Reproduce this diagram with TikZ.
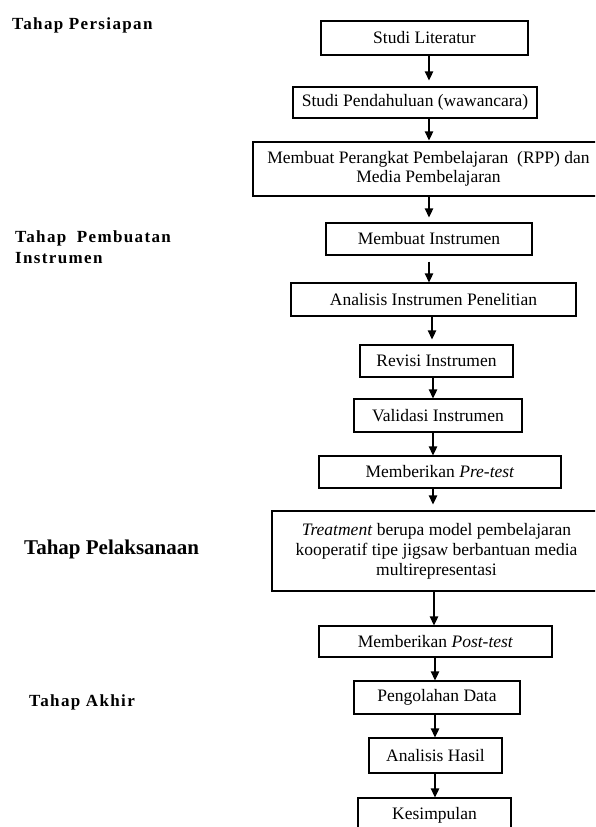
\documentclass[tikz,border=0pt]{standalone}
\usepackage{fontspec}
\setmainfont{Liberation Serif}
\newfontfamily\labfont[LetterSpace=8]{Liberation Serif}
\usetikzlibrary{arrows.meta}
\begin{document}
\begin{tikzpicture}[x=1pt,y=-1pt,
  box/.style={draw, line width=1.3pt, inner sep=0pt, align=center, font=\fontsize{17.5}{19}\selectfont},
  arr/.style={line width=1.3pt, -{Triangle[length=9pt,width=8.5pt]}},
  lab/.style={font=\fontsize{17}{21}\selectfont\labfont\bfseries, inner sep=0pt, anchor=base west, align=left},
]
\useasboundingbox (0,0) rectangle (595,827);
\clip (0,0) rectangle (595,827);
% boxes
\node[box, minimum width=207, minimum height=34] (b1) at (424.5,38) {Studi Literatur};
\node[box, minimum width=244, minimum height=31] (b2) at (415,102.5) {Studi Pendahuluan (wawancara)};
\node[box, minimum width=351, minimum height=54] (b3) at (428.5,169) {Membuat Perangkat Pembelajaran\ \ (RPP) dan\\Media Pembelajaran};
\node[box, minimum width=206, minimum height=32] (b4) at (429,239) {Membuat Instrumen};
\node[box, minimum width=285, minimum height=33] (b5) at (433.5,299.5) {Analisis Instrumen Penelitian};
\node[box, minimum width=153, minimum height=32] (b6) at (436.5,361) {Revisi Instrumen};
\node[box, minimum width=168, minimum height=33] (b7) at (438,415.5) {Validasi Instrumen};
\node[box, minimum width=242, minimum height=32] (b8) at (440,472) {Memberikan \textit{Pre-test}};
\node[box, minimum width=329, minimum height=80, font=\fontsize{17.5}{20}\selectfont] (b9) at (436.5,551) {\textit{Treatment} berupa model pembelajaran\\kooperatif tipe jigsaw berbantuan media\\multirepresentasi};
\node[box, minimum width=233, minimum height=31] (b10) at (435.5,641.5) {Memberikan \textit{Post-test}};
\node[box, minimum width=166, minimum height=33] (b11) at (437,697.5) {Pengolahan Data};
\node[box, minimum width=133, minimum height=35] (b12) at (435.5,755.5) {Analisis Hasil};
\node[box, minimum width=153, minimum height=34] (b13) at (434.5,815) {Kesimpulan};
% arrows
\draw[arr, shorten >=6pt] ([xshift=4.5]b1.south) -- ([xshift=4.5]b1.south |- b2.north);
\draw[arr, shorten >=1pt] ([xshift=14]b2.south) -- ([xshift=14]b2.south |- b3.north);
\draw[arr, shorten >=5pt] ([xshift=0.5]b3.south) -- ([xshift=0.5]b3.south |- b4.north);
\draw[arr, shorten <=6pt] ([xshift=0]b4.south) -- ([xshift=0]b4.south |- b5.north);
\draw[arr, shorten >=5pt] ([xshift=-1.5]b5.south) -- ([xshift=-1.5]b5.south |- b6.north);
\draw[arr] ([xshift=-3.5]b6.south) -- ([xshift=-3.5]b6.south |- b7.north);
\draw[arr] ([xshift=-5]b7.south) -- ([xshift=-5]b7.south |- b8.north);
\draw[arr, shorten >=6pt] ([xshift=-7]b8.south) -- ([xshift=-7]b8.south |- b9.north);
\draw[arr] ([xshift=-2.5]b9.south) -- ([xshift=-2.5]b9.south |- b10.north);
\draw[arr] ([xshift=-0.5]b10.south) -- ([xshift=-0.5]b10.south |- b11.north);
\draw[arr] ([xshift=-2]b11.south) -- ([xshift=-2]b11.south |- b12.north);
\draw[arr] ([xshift=-0.5]b12.south) -- ([xshift=-0.5]b12.south |- b13.north);
% stage labels
\node[lab] (l1) at (12,29) {Tahap Persiapan};
\node[lab, anchor=north west] (l2) at (15,231) {Tahap\hspace{5pt} Pembuatan\\Instrumen};
\node[font=\fontsize{21}{24}\selectfont\bfseries, anchor=base west, inner sep=0pt] (l3) at (24,554) {Tahap Pelaksanaan};
\node[lab] (l4) at (29,706) {Tahap Akhir};
\end{tikzpicture}
\end{document}
